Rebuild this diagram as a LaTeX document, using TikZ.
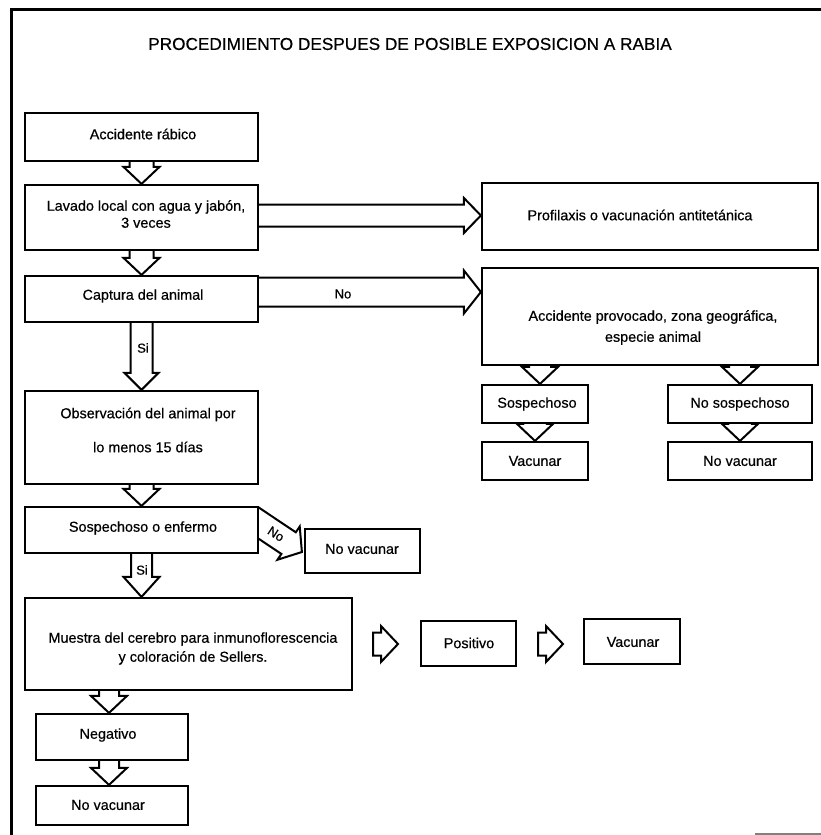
\documentclass[tikz,border=0pt]{standalone}
\usepackage{fontspec}
\setmainfont{Liberation Sans}[FakeBold=0.45]
\usetikzlibrary{calc}
\tikzset{
  box/.style args={#1x#2}{draw, line width=2.2pt, inner sep=0pt, minimum width=#1pt, minimum height=#2pt},
  txt/.style={inner sep=0pt, align=center, font=\fontsize{14.4}{17}\selectfont},
  lbl/.style={inner sep=0pt, font=\fontsize{13}{15}\selectfont},
  arrowline/.style={draw, line width=2pt, line join=miter},
  frameline/.style={line width=3pt}
}
\newcommand\blockpts[5]{%
  \path ($(#2)!#5!(#1)$) coordinate (bH);
  \path ($(#1)!#3!90:(#2)$) coordinate (bA1);
  \path ($(#1)!#3!-90:(#2)$) coordinate (bA2);
  \path ($(bH)!#3!90:(#2)$) coordinate (bH1);
  \path ($(bH)!#3!-90:(#2)$) coordinate (bH2);
  \path ($(bH)!#4!90:(#2)$) coordinate (bW1);
  \path ($(bH)!#4!-90:(#2)$) coordinate (bW2);
}
% open block arrow: from, to, shaft half width, head half width, head length
\newcommand\barrow[5]{%
  \blockpts{#1}{#2}{#3}{#4}{#5}
  \draw[arrowline] (bA1) -- (bH1) -- (bW1) -- (#2) -- (bW2) -- (bH2) -- (bA2);
}
% closed block arrow
\newcommand\barrowc[5]{%
  \blockpts{#1}{#2}{#3}{#4}{#5}
  \draw[arrowline] (bA1) -- (bH1) -- (bW1) -- (#2) -- (bW2) -- (bH2) -- (bA2) -- cycle;
}
\begin{document}
\begin{tikzpicture}[x=1pt,y=-1pt]
\useasboundingbox (0,0) rectangle (821,835);
% frame
\draw[frameline] (821,9) -- (11,9) -- (11,835);
\draw[gray, line width=1.5pt] (755,834) -- (821,834);
% title
\node[inner sep=0pt, font=\fontsize{17.2}{20}\selectfont] (title) at (410,44) {PROCEDIMIENTO DESPUES DE POSIBLE EXPOSICION A RABIA};

% left column boxes
\node[box=233x48] (acc) at (141.5,137) {};
\node[txt] (tacc) at (143,134) {Accidente rábico};
\node[box=233x65] (lav) at (141.5,217.5) {};
\node[txt] (tlav) at (146,214) {Lavado local con agua y jabón,\\3 veces};
\node[box=233x46] (cap) at (141.5,299) {};
\node[txt] (tcap) at (143,296) {Captura del animal};
\node[box=233x93] (obs) at (141.5,437.5) {};
\node[txt] (tobs) at (148,430) {Observación del animal por\\[17pt]lo menos 15 días};
\node[box=233x46] (se) at (141.5,530) {};
\node[txt] (tse) at (143,528) {Sospechoso o enfermo};
\node[box=327x92] (mue) at (188.5,644) {};
\node[txt] (tmue) at (193,648.5) {Muestra del cerebro para inmunoflorescencia\\[2pt]y coloración de Sellers.};
\node[box=152x46] (neg) at (112,737) {};
\node[txt] (tneg) at (108,735) {Negativo};
\node[box=152x39] (nv1) at (112,805.5) {};
\node[txt] (tnv1) at (108,805) {No vacunar};
\node[box=115x44] (nvs) at (362.5,551) {};
\node[txt] (tnvs) at (362,549) {No vacunar};
\node[box=95x45] (pos) at (468.5,643.5) {};
\node[txt] (tpos) at (469,643) {Positivo};
\node[box=96x45] (vac2) at (632,641.5) {};
\node[txt] (tvac2) at (633,642) {Vacunar};

% right column boxes
\node[box=336x67] (prof) at (650,216.5) {};
\node[txt] (tprof) at (640,215) {Profilaxis o vacunación antitetánica};
\node[box=336x97] (ap) at (650,316.5) {};
\node[txt] (tap) at (653,327.5) {Accidente provocado, zona geográfica,\\[4pt]especie animal};
\node[box=106x38] (sosp) at (535,404) {};
\node[txt] (tsosp) at (537,404) {Sospechoso};
\node[box=144x38] (nsos) at (740,404) {};
\node[txt] (tnsos) at (740,404) {No sospechoso};
\node[box=106x38] (vac) at (535,461) {};
\node[txt] (tvac) at (535,461) {Vacunar};
\node[box=144x38] (nv2) at (740,461) {};
\node[txt] (tnv2) at (740,461) {No vacunar};

% vertical block arrows, left column
\barrow{acc.south}{lav.north}{12pt}{18pt}{17pt}
\barrow{lav.south}{cap.north}{12pt}{18pt}{17pt}
\barrow{cap.south}{obs.north}{11pt}{17pt}{17pt}
\node[lbl] (si1) at (143,348) {Si};
\barrow{obs.south}{se.north}{12pt}{18pt}{17pt}
\coordinate (muein) at (se.south |- mue.north);
\barrow{se.south}{muein}{10.5pt}{18pt}{20pt}
\node[lbl] (si2) at (142,570) {Si};
\coordinate (mueout) at ($(neg.north |- mue.south)+(-3,0)$);
\coordinate (negin) at ($(neg.north)+(-3,0)$);
\barrow{mueout}{negin}{10pt}{18pt}{17pt}
\coordinate (negout) at ($(neg.south)+(-3,0)$);
\coordinate (nv1in) at ($(nv1.north)+(-3,0)$);
\barrow{negout}{nv1in}{10pt}{18pt}{17pt}

% horizontal block arrows
\coordinate (lavout) at ($(lav.east)+(0,-2)$);
\coordinate (profin) at (prof.west |- lavout);
\barrow{lavout}{profin}{11pt}{17.5pt}{17pt}
\coordinate (capout) at ($(cap.east)+(0,-7)$);
\coordinate (apin) at (ap.west |- capout);
\barrow{capout}{apin}{14.5pt}{21.5pt}{17pt}
\node[lbl] (no1) at (343,294) {No};

% right column vertical arrows
\coordinate (apout1) at ($(sosp.north |- ap.south)+(5,0)$);
\coordinate (sospin) at ($(sosp.north)+(5,0)$);
\barrow{apout1}{sospin}{11pt}{18pt}{17pt}
\coordinate (apout2) at (nsos.north |- ap.south);
\barrow{apout2}{nsos.north}{11pt}{18pt}{17pt}
\barrow{sosp.south}{vac.north}{11pt}{18pt}{17pt}
\barrow{nsos.south}{nv2.north}{11pt}{18pt}{17pt}

% diagonal "No" arrow
\begin{scope}
  \clip (se.east |- 0,0) rectangle (821,835);
  \coordinate (seout) at (250,517.3);
  \coordinate (nvsin) at ($(nvs.west)+(-2,1)$);
  \barrow{seout}{nvsin}{13pt}{20pt}{16pt}
\end{scope}
\node[lbl, rotate=-33] (no2) at (276,534) {No};

% free-standing arrows
\coordinate (p1a) at (373,644);
\coordinate (p1b) at (398,644);
\barrowc{p1a}{p1b}{11.5pt}{18pt}{17pt}
\coordinate (p2a) at (538,644);
\coordinate (p2b) at (563,644);
\barrowc{p2a}{p2b}{11.5pt}{18pt}{17pt}
\end{tikzpicture}
\end{document}
